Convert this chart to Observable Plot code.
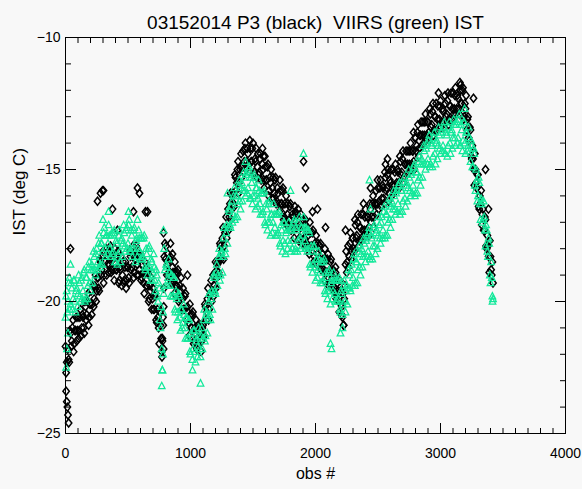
<!DOCTYPE html>
<html><head><meta charset="utf-8">
<script src="https://cdn.jsdelivr.net/npm/d3@7"></script>
<script src="https://cdn.jsdelivr.net/npm/@observablehq/plot@0.6"></script>
<style>
html,body{margin:0;padding:0;background:#f8f8f8;}
svg text{white-space:pre;}
</style></head><body><div id="chart"></div>
<script>
const title = "03152014 P3 (black)  VIIRS (green) IST";
const xLabel = "obs #";
const yLabel = "IST (deg C)";
const xTicks = [0, 1000, 2000, 3000, 4000];
const yTicks = [-25, -20, -15, -10];
const obsStep = 10; // main values: obs 0,10,20,...; half values: obs 5,15,25,...

// P3 (black) IST at obs 0,10,...,3420
const p3Values = [
-21.7,-22.3,-21.8,-22.3,-21.2,-21.5,-20.7,-21.6,-21.1,-21.5,-20.6,-21.1,
-20.3,-21.0,-20.6,-21.2,-20.2,-20.5,-19.7,-20.6,-20.1,-20.5,-19.4,-19.9,
-19.0,-19.6,-19.1,-19.6,-18.5,-18.8,-18.1,-19.0,-18.5,-19.0,-18.1,-18.6,
-17.9,-18.8,-18.4,-19.2,-18.3,-18.8,-18.1,-19.2,-18.8,-19.4,-18.5,-19.2,
-18.5,-19.2,-18.7,-19.3,-18.3,-18.7,-17.9,-18.9,-18.4,-19.0,-18.2,-18.8,
-18.2,-19.1,-18.9,-19.7,-18.9,-19.4,-18.8,-19.9,-19.6,-20.3,-19.5,-20.3,
-19.7,-20.8,-20.6,-21.6,-20.9,-21.9,-20.6,-18.3,-18.4,-19.0,-18.2,-18.9,
-18.3,-19.2,-18.9,-19.7,-18.9,-19.4,-18.8,-19.9,-19.6,-20.3,-19.5,-20.3,
-19.7,-20.7,-20.4,-21.3,-20.5,-21.0,-20.4,-21.5,-21.2,-21.8,-20.9,-21.6,
-20.9,-21.5,-20.9,-21.3,-20.2,-20.4,-19.5,-20.3,-19.7,-20.0,-19.0,-19.4,
-18.5,-19.1,-18.5,-19.0,-17.9,-18.1,-17.2,-17.9,-17.3,-17.6,-16.5,-16.8,
-15.9,-16.5,-15.9,-16.4,-15.3,-15.5,-14.7,-15.5,-14.9,-15.3,-14.3,-14.7,
-14.0,-14.7,-14.4,-15.1,-14.2,-14.7,-14.0,-15.1,-14.7,-15.3,-14.4,-15.1,
-14.4,-15.3,-15.0,-15.7,-14.9,-15.4,-14.8,-15.8,-15.5,-16.1,-15.3,-15.9,
-15.3,-16.2,-15.9,-16.6,-15.8,-16.3,-15.7,-16.8,-16.5,-17.1,-16.3,-16.9,
-16.3,-17.2,-16.8,-17.6,-16.7,-17.2,-16.5,-17.6,-17.2,-17.8,-16.9,-17.6,
-16.9,-17.8,-17.5,-18.2,-17.4,-17.9,-17.3,-18.3,-18.0,-18.6,-17.8,-18.4,
-17.8,-18.7,-18.4,-19.2,-18.4,-18.9,-18.2,-19.3,-18.9,-19.5,-18.8,-19.5,
-18.9,-19.8,-19.6,-20.4,-19.6,-20.2,-19.7,-19.9,-18.6,-18.9,-17.9,-18.3,
-17.4,-18.1,-17.6,-18.1,-17.1,-17.5,-16.7,-17.7,-17.2,-17.7,-16.7,-17.3,
-16.5,-17.3,-16.8,-17.5,-16.5,-16.8,-16.0,-16.8,-16.3,-16.7,-15.7,-16.2,
-15.4,-16.1,-15.7,-16.3,-15.3,-15.7,-15.0,-15.9,-15.5,-16.0,-15.0,-15.6,
-14.8,-15.5,-15.1,-15.7,-14.7,-15.1,-14.3,-15.3,-14.8,-15.2,-14.3,-14.8,
-14.0,-14.8,-14.3,-15.0,-13.8,-14.1,-13.3,-14.2,-13.7,-14.1,-13.2,-13.7,
-12.9,-13.7,-13.2,-13.9,-12.9,-13.3,-12.5,-13.5,-13.0,-13.5,-12.6,-13.1,
-12.4,-13.2,-12.8,-13.4,-12.5,-12.9,-12.1,-13.1,-12.6,-13.1,-12.1,-12.7,
-11.9,-12.7,-12.3,-12.9,-12.0,-12.5,-11.9,-13.0,-12.7,-13.5,-13.0,-13.9,
-13.5,-14.6,-14.6,-15.6,-15.0,-15.7,-15.2,-16.5,-16.3,-17.1,-16.5,-17.3,
-16.9,-18.0,-17.9,-18.9,-18.3,-19.0,-19.3
];
// P3 (black) IST at obs 5,15,...,3415
const p3HalfValues = [
-22.7,-21.8,-22.2,-21.1,-21.7,-21.0,-21.9,-21.1,-20.6,-21.1,-21.4,-20.6,
-21.3,-20.5,-21.0,-20.0,-20.7,-20.0,-20.9,-20.1,-19.6,-20.1,-20.2,-19.4,
-20.0,-19.1,-19.5,-18.4,-19.0,-18.3,-19.3,-18.5,-18.0,-18.6,-18.9,-18.1,
-18.9,-18.3,-18.8,-18.0,-18.8,-18.3,-19.3,-18.7,-18.3,-19.0,-19.3,-18.7,
-19.5,-18.7,-19.1,-18.1,-18.8,-18.2,-19.1,-18.4,-17.9,-18.6,-19.0,-18.3,
-19.2,-18.6,-19.3,-18.5,-19.4,-18.9,-20.0,-19.4,-19.1,-19.9,-20.3,-19.8,
-20.7,-20.3,-21.0,-20.4,-21.4,-21.4,-21.8,-17.8,-17.9,-18.6,-19.0,-18.4,
-19.3,-18.7,-19.3,-18.5,-19.4,-18.9,-20.0,-19.4,-19.1,-19.9,-20.3,-19.8,
-20.7,-20.2,-20.8,-20.1,-21.0,-20.5,-21.6,-21.0,-20.7,-21.4,-21.7,-21.1,
-21.9,-21.0,-21.3,-20.1,-20.7,-19.9,-20.7,-19.8,-19.2,-19.6,-19.8,-18.9,
-19.5,-18.6,-18.9,-17.8,-18.4,-17.6,-18.4,-17.4,-16.8,-17.2,-17.3,-16.3,
-16.9,-16.0,-16.3,-15.2,-15.8,-15.0,-15.9,-15.0,-14.4,-14.9,-15.1,-14.2,
-15.0,-14.2,-14.8,-13.9,-14.7,-14.2,-15.2,-14.6,-14.2,-14.9,-15.2,-14.6,
-15.4,-14.8,-15.4,-14.5,-15.4,-14.9,-16.0,-15.3,-15.0,-15.7,-16.1,-15.4,
-16.3,-15.7,-16.3,-15.4,-16.3,-15.8,-16.9,-16.3,-16.0,-16.7,-17.1,-16.4,
-17.3,-16.7,-17.2,-16.4,-17.2,-16.7,-17.7,-17.1,-16.7,-17.4,-17.7,-17.1,
-17.9,-17.3,-17.9,-17.0,-17.9,-17.4,-18.5,-17.8,-17.5,-18.2,-18.6,-17.9,
-18.8,-18.2,-18.8,-18.0,-18.9,-18.4,-19.4,-18.8,-18.4,-19.1,-19.6,-19.0,
-19.9,-19.3,-20.0,-19.2,-20.1,-19.7,-20.9,-19.4,-18.1,-18.5,-18.7,-17.8,
-18.4,-17.6,-18.0,-16.9,-17.6,-17.0,-17.9,-17.2,-16.7,-17.3,-17.5,-16.8,
-17.5,-16.8,-17.2,-16.3,-17.0,-16.3,-17.2,-16.3,-15.8,-16.3,-16.5,-15.7,
-16.4,-15.6,-16.1,-15.1,-15.8,-15.2,-16.2,-15.4,-15.0,-15.6,-15.8,-15.1,
-15.8,-15.0,-15.5,-14.5,-15.2,-14.6,-15.5,-14.8,-14.3,-14.8,-15.1,-14.3,
-15.0,-14.3,-14.7,-13.8,-14.3,-13.6,-14.5,-13.7,-13.2,-13.7,-14.0,-13.2,
-13.9,-13.2,-13.6,-12.7,-13.4,-12.8,-13.7,-13.0,-12.5,-13.1,-13.4,-12.6,
-13.4,-12.7,-13.2,-12.2,-13.0,-12.4,-13.3,-12.6,-12.1,-12.7,-12.9,-12.2,
-12.9,-12.2,-12.7,-11.7,-12.5,-12.0,-13.1,-12.5,-12.2,-13.1,-13.8,-13.4,
-14.5,-14.1,-15.0,-14.4,-15.5,-15.2,-16.4,-16.0,-15.8,-16.7,-17.3,-16.8,
-17.9,-17.5,-18.3,-17.7,-18.8,-18.5
];

// VIIRS (green) IST at obs 0,10,...,3420
const viirsValues = [
-20.6,-19.6,-20.0,-19.1,-20.1,-19.5,-19.9,-19.2,-20.4,-19.5,-19.7,-19.3,
-20.0,-19.1,-19.6,-18.8,-19.9,-19.1,-19.4,-18.5,-19.6,-18.6,-18.8,-18.3,
-19.0,-18.0,-18.5,-17.5,-18.6,-17.8,-18.1,-17.2,-18.3,-17.5,-17.8,-17.5,
-18.3,-17.4,-18.1,-17.3,-18.5,-17.8,-18.2,-17.3,-18.5,-17.6,-17.8,-17.4,
-18.1,-17.2,-17.8,-16.9,-18.1,-17.5,-18.0,-17.2,-18.5,-17.6,-18.0,-17.6,
-18.4,-17.6,-18.3,-17.5,-18.8,-18.2,-18.7,-17.9,-19.2,-18.5,-18.9,-18.7,
-19.6,-19.0,-20.0,-19.5,-21.0,-21.8,-20.4,-18.0,-19.4,-18.7,-19.1,-18.9,
-19.8,-19.0,-19.8,-19.1,-20.4,-19.9,-20.4,-19.8,-21.1,-20.3,-20.8,-20.5,
-21.4,-20.6,-21.4,-20.7,-22.0,-21.4,-21.8,-21.1,-22.3,-21.4,-21.7,-21.3,
-22.1,-21.0,-21.4,-20.3,-21.3,-20.4,-20.7,-19.7,-20.7,-19.6,-19.7,-19.1,
-19.7,-18.6,-19.0,-18.0,-19.0,-18.1,-18.3,-17.2,-18.2,-17.1,-17.2,-16.6,
-17.2,-16.2,-16.7,-15.7,-16.8,-16.0,-16.3,-15.4,-16.5,-15.5,-15.8,-15.3,
-16.0,-15.1,-15.7,-14.9,-16.1,-15.5,-16.0,-15.2,-16.5,-15.7,-16.1,-15.8,
-16.7,-15.9,-16.6,-15.8,-17.1,-16.5,-17.0,-16.2,-17.5,-16.7,-17.0,-16.7,
-17.5,-16.7,-17.4,-16.6,-17.9,-17.3,-17.7,-17.0,-18.2,-17.3,-17.7,-17.3,
-18.1,-17.2,-17.7,-16.9,-18.0,-17.3,-17.7,-16.8,-18.0,-17.2,-17.5,-17.2,
-18.0,-17.3,-18.0,-17.4,-18.7,-18.1,-18.6,-17.9,-19.2,-18.4,-18.8,-18.4,
-19.3,-18.5,-19.2,-18.4,-19.7,-19.1,-19.6,-18.8,-20.1,-19.2,-19.6,-19.2,
-20.0,-19.2,-19.9,-19.1,-20.4,-19.7,-20.1,-19.2,-20.4,-19.4,-19.5,-19.0,
-19.6,-18.6,-19.1,-18.2,-19.3,-18.5,-18.8,-17.9,-19.0,-18.0,-18.3,-17.8,
-18.5,-17.5,-18.1,-17.2,-18.3,-17.6,-17.9,-17.1,-18.2,-17.3,-17.5,-17.1,
-17.8,-16.8,-17.3,-16.4,-17.5,-16.7,-17.0,-16.1,-17.2,-16.2,-16.5,-16.0,
-16.7,-15.8,-16.3,-15.5,-16.6,-15.8,-16.2,-15.3,-16.4,-15.5,-15.7,-15.3,
-16.0,-15.1,-15.6,-14.8,-15.9,-15.1,-15.4,-14.5,-15.6,-14.6,-14.8,-14.3,
-15.0,-14.0,-14.6,-13.7,-14.8,-14.1,-14.5,-13.6,-14.8,-13.9,-14.1,-13.7,
-14.4,-13.5,-14.1,-13.2,-14.4,-13.7,-14.1,-13.2,-14.4,-13.5,-13.8,-13.3,
-14.1,-13.2,-13.8,-12.9,-14.1,-13.5,-13.9,-13.2,-14.4,-13.6,-14.1,-13.8,
-14.7,-14.1,-14.9,-14.4,-15.8,-15.4,-16.0,-15.5,-16.9,-16.3,-16.9,-16.8,
-17.9,-17.3,-18.3,-17.8,-19.3,-19.1,-19.9
];
// VIIRS (green) IST at obs 5,15,...,3415
const viirsHalfValues = [
-19.8,-20.4,-19.3,-20.3,-19.3,-20.3,-19.2,-20.0,-19.6,-20.2,-19.0,-19.8,
-19.2,-19.9,-18.9,-20.0,-19.1,-19.9,-18.7,-19.3,-18.8,-19.3,-18.1,-18.8,
-18.2,-18.8,-17.8,-18.7,-17.8,-18.6,-17.4,-18.0,-17.5,-18.2,-17.1,-18.0,
-17.5,-18.2,-17.4,-18.5,-17.7,-18.6,-17.5,-18.1,-17.7,-18.3,-17.1,-17.9,
-17.3,-18.0,-17.1,-18.1,-17.3,-18.3,-17.3,-18.0,-17.7,-18.3,-17.3,-18.1,
-17.6,-18.4,-17.6,-18.7,-18.0,-19.0,-18.0,-18.7,-18.4,-19.2,-18.2,-19.2,
-18.8,-19.8,-19.3,-20.7,-20.2,-22.6,-19.7,-18.8,-18.6,-19.4,-18.4,-19.4,
-19.0,-19.8,-19.1,-20.3,-19.6,-20.7,-19.7,-20.6,-20.3,-21.0,-20.1,-21.0,
-20.6,-21.4,-20.7,-21.9,-21.2,-22.2,-21.1,-21.9,-21.5,-22.1,-21.0,-21.8,
-21.3,-21.8,-20.7,-21.5,-20.5,-21.2,-20.0,-20.5,-19.9,-20.3,-19.0,-19.6,
-18.9,-19.4,-18.3,-19.2,-18.2,-18.9,-17.6,-18.0,-17.4,-17.8,-16.5,-17.1,
-16.4,-17.0,-16.0,-16.9,-16.0,-16.8,-15.6,-16.2,-15.7,-16.2,-15.1,-15.8,
-15.2,-15.9,-15.0,-16.1,-15.3,-16.3,-15.3,-16.0,-15.7,-16.4,-15.4,-16.3,
-15.9,-16.7,-15.9,-17.0,-16.3,-17.3,-16.3,-17.0,-16.7,-17.4,-16.3,-17.2,
-16.7,-17.5,-16.7,-17.8,-17.1,-18.1,-17.0,-17.8,-17.4,-18.0,-17.0,-17.8,
-17.3,-18.0,-17.0,-18.1,-17.2,-18.1,-17.0,-17.6,-17.2,-17.9,-16.8,-17.7,
-17.2,-18.1,-17.3,-18.6,-17.9,-18.9,-17.9,-18.7,-18.4,-19.1,-18.1,-18.9,
-18.5,-19.3,-18.5,-19.6,-18.9,-19.9,-18.9,-19.6,-19.3,-19.9,-18.9,-19.7,
-19.2,-20.0,-19.2,-20.3,-19.6,-20.5,-19.4,-20.0,-19.6,-20.1,-18.8,-19.5,
-18.8,-19.4,-18.4,-19.4,-18.5,-19.3,-18.1,-18.7,-18.2,-18.7,-17.6,-18.3,
-17.7,-18.3,-17.4,-18.4,-17.5,-18.4,-17.2,-17.9,-17.4,-18.0,-16.8,-17.6,
-17.0,-17.6,-16.6,-17.6,-16.7,-17.5,-16.3,-16.9,-16.4,-16.9,-15.8,-16.5,
-15.9,-16.6,-15.6,-16.7,-15.8,-16.6,-15.5,-16.1,-15.6,-16.2,-15.0,-15.8,
-15.2,-15.9,-14.9,-16.0,-15.1,-15.9,-14.7,-15.3,-14.8,-15.3,-14.1,-14.8,
-14.2,-14.8,-13.9,-14.9,-14.0,-14.9,-13.8,-14.4,-14.0,-14.6,-13.4,-14.2,
-13.6,-14.3,-13.4,-14.4,-13.6,-14.5,-13.4,-14.0,-13.6,-14.2,-13.1,-13.8,
-13.3,-14.0,-13.1,-14.1,-13.3,-14.3,-13.2,-14.0,-13.6,-14.3,-13.4,-14.3,
-13.9,-14.9,-14.2,-15.6,-15.0,-16.2,-15.3,-16.3,-16.1,-17.0,-16.2,-17.3,
-17.1,-18.1,-17.6,-19.0,-18.5,-19.8
];

// scattered points away from the main bands
const p3OutlierObs = [5,10,15,20,25,40,256,280,296,304,376,416,544,576,592,640,656,772,776,782,786,788,784,840,856,976,1576,1584,1904,1920,1840,1976,2016,2080,2120,2160,2210,2215,2225,2240,2384,2440,2496,2560,2576,2784,2984,3160,3264,3360,3384];
const p3OutlierValues = [-23.4,-23.8,-24.0,-24.3,-24.6,-18.0,-16.2,-15.9,-15.8,-15.8,-16.5,-17.3,-16.6,-15.7,-15.9,-16.6,-16.6,-22.1,-21.5,-20.9,-20.2,-19.5,-17.4,-17.8,-18.2,-19.0,-14.2,-14.5,-14.7,-15.7,-16.6,-16.6,-16.5,-17.2,-18.5,-18.7,-20.5,-20.6,-20.9,-17.3,-16.3,-15.7,-15.4,-14.8,-14.6,-13.6,-12.1,-11.8,-12.3,-15.0,-16.5];
const viirsOutlierObs = [5,12,20,40,300,344,504,576,784,770,775,780,1016,1080,1296,1440,1800,1904,2120,2128,2200,2216,2432,2440,3192,3416];
const viirsOutlierValues = [-22.5,-21.8,-21.2,-18.6,-16.9,-16.6,-16.6,-16.9,-17.3,-23.2,-22.6,-22.0,-22.6,-23.1,-15.9,-14.7,-15.8,-14.4,-21.6,-21.8,-21.2,-21.0,-15.4,-16.5,-12.7,-20.0];

const toRows = (vals, start) => vals.map((v, i) => ({obs: start + i * obsStep, ist: v}));
const p3 = toRows(p3Values, 0).concat(toRows(p3HalfValues, obsStep / 2),
  p3OutlierObs.map((o, i) => ({obs: o, ist: p3OutlierValues[i]})));
const viirs = toRows(viirsValues, 0).concat(toRows(viirsHalfValues, obsStep / 2),
  viirsOutlierObs.map((o, i) => ({obs: o, ist: viirsOutlierValues[i]})));

// marker shapes
const diamond = {draw(ctx) { ctx.moveTo(0, -4); ctx.lineTo(3.2, 0); ctx.lineTo(0, 4); ctx.lineTo(-3.2, 0); ctx.closePath(); }};
const triangle = {draw(ctx) { ctx.moveTo(0, -3.7); ctx.lineTo(3.3, 2.7); ctx.lineTo(-3.3, 2.7); ctx.closePath(); }};

const W = 582, H = 489, mL = 65, mR = 17, mT = 37, mB = 56;
const xDomain = [0, 4000], yDomain = [-25, -10];
const xMinor = d3.range(0, 4001, 100);
const yMinor = d3.range(-25, -9, 1);
const FONT = "'Liberation Sans', Arial, sans-serif";
const minorLen = 5, majorLen = 10;
const noText = () => "";
// inward ticks on all four sides (negative tick size points into the frame)
const inwardTicks = [
  ...["bottom", "top"].flatMap(a => [
    Plot.axisX({anchor: a, ticks: xMinor, tickSize: -minorLen, tickFormat: noText, label: null}),
    Plot.axisX({anchor: a, ticks: xTicks, tickSize: -majorLen, tickFormat: noText, label: null})
  ]),
  ...["left", "right"].flatMap(a => [
    Plot.axisY({anchor: a, ticks: yMinor, tickSize: -(minorLen + 1), tickFormat: noText, label: null}),
    Plot.axisY({anchor: a, ticks: yTicks, tickSize: -(majorLen + 1), tickFormat: noText, label: null})
  ])
];

const chart = Plot.plot({
  width: W, height: H,
  marginLeft: mL, marginRight: mR, marginTop: mT, marginBottom: mB,
  style: {background: "#f8f8f8", fontFamily: FONT, fontSize: "14px", color: "#000", overflow: "visible"},
  x: {domain: xDomain},
  y: {domain: yDomain},
  marks: [
    Plot.dot(p3, {x: "obs", y: "ist", symbol: diamond, fill: "none", stroke: "#000", strokeWidth: 1.5}),
    Plot.dot(viirs, {x: "obs", y: "ist", symbol: triangle, fill: "none", stroke: "#12e89a", strokeWidth: 1.25}),
    Plot.frame({stroke: "#000"}),
    ...inwardTicks,
    Plot.axisX({anchor: "bottom", ticks: xTicks, tickSize: 0, tickPadding: 15, tickFormat: d => String(d), label: null}),
    Plot.axisY({anchor: "left", ticks: yTicks, tickSize: 0, tickPadding: 5, label: null}),
    Plot.text([title], {text: d => d, frameAnchor: "top", dy: -22, fontSize: 19}),
    Plot.text([xLabel], {text: d => d, frameAnchor: "bottom", dy: 45, fontSize: 16}),
    Plot.text([yLabel], {text: d => d, frameAnchor: "left", dx: -46, rotate: -90, fontSize: 17})
  ]
});
document.getElementById("chart").appendChild(chart);
</script></body></html>
